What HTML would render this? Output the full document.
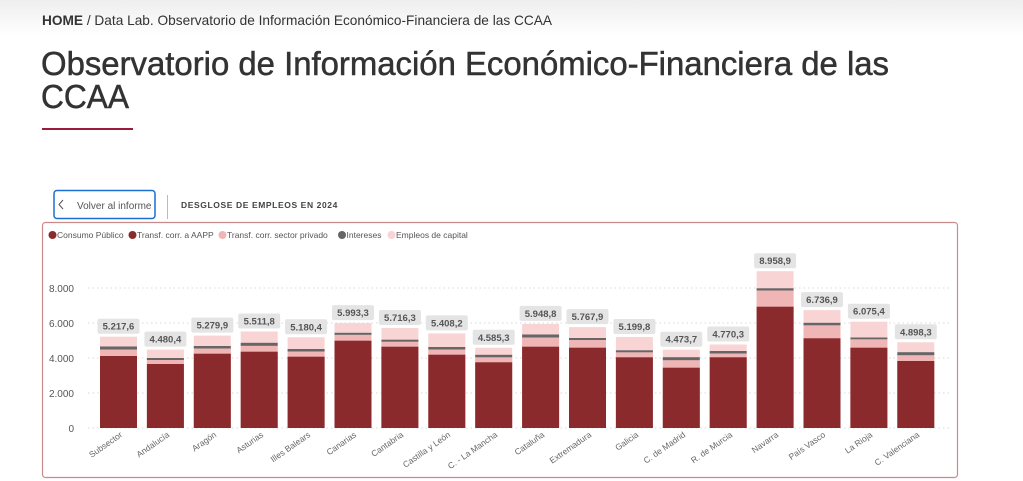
<!DOCTYPE html>
<html><head><meta charset="utf-8"><style>
html,body{margin:0;padding:0;background:#fff;width:1023px;height:481px;overflow:hidden}
svg{display:block}
text{font-family:"Liberation Sans",sans-serif}
</style></head><body>
<svg width="1023" height="481" viewBox="0 0 1023 481" xmlns="http://www.w3.org/2000/svg">
<defs><linearGradient id="tg" x1="0" y1="0" x2="0" y2="1"><stop offset="0" stop-color="#eeeeee"/><stop offset="1" stop-color="#ffffff"/></linearGradient></defs>
<rect x="0" y="0" width="1023" height="36" fill="url(#tg)"/>
<text x="42" y="25" font-size="14" fill="#333" textLength="510" lengthAdjust="spacingAndGlyphs"><tspan font-weight="bold">HOME</tspan> / Data Lab. Observatorio de Información Económico-Financiera de las CCAA</text>
<text x="41" y="75" font-size="33" fill="#333" stroke="#333" stroke-width="0.5" textLength="848" lengthAdjust="spacingAndGlyphs">Observatorio de Información Económico-Financiera de las</text>
<text x="41" y="108" font-size="33" fill="#333" stroke="#333" stroke-width="0.5" textLength="88" lengthAdjust="spacingAndGlyphs">CCAA</text>
<rect x="42" y="128" width="91" height="2" fill="#9b1b3a"/>

<rect x="54" y="190.5" width="101" height="28" rx="3" fill="#fff" stroke="#1a6fd0" stroke-width="1.5"/>
<path d="M63 200 L59 204.5 L63 209" fill="none" stroke="#555" stroke-width="1"/>
<text x="77" y="209" font-size="10" fill="#555">Volver al informe</text>
<rect x="167" y="195" width="1" height="24" fill="#bbb"/>
<text x="181" y="208" font-size="8.5" font-weight="bold" fill="#444" letter-spacing="0.6">DESGLOSE DE EMPLEOS EN 2024</text>

<rect x="42.5" y="222.5" width="915" height="255" rx="3" fill="#fff" stroke="#c98a8c" stroke-width="1.2"/>

<g font-size="8.5" fill="#555">
<circle cx="52.5" cy="235" r="4" fill="#8b2a2d"/><text x="57" y="238">Consumo Público</text>
<circle cx="132.5" cy="235" r="4" fill="#8b2a2d"/><text x="137" y="238">Transf. corr. a AAPP</text>
<circle cx="222.5" cy="235" r="4" fill="#f0b5b5"/><text x="227" y="238">Transf. corr. sector privado</text>
<circle cx="342" cy="235" r="4" fill="#666"/><text x="346.5" y="238">Intereses</text>
<circle cx="391.5" cy="235" r="4" fill="#f8d4d4"/><text x="396" y="238">Empleos de capital</text>
</g>

<g stroke="#ccc" stroke-width="0.8" stroke-dasharray="1.5,3">
<line x1="88" y1="288" x2="950" y2="288"/><line x1="88" y1="323" x2="950" y2="323"/>
<line x1="88" y1="358" x2="950" y2="358"/><line x1="88" y1="393" x2="950" y2="393"/>
<line x1="88" y1="428" x2="950" y2="428"/>
</g>
<g font-size="10" fill="#555" text-anchor="end">
<text x="74" y="292">8.000</text><text x="74" y="327">6.000</text><text x="74" y="362">4.000</text><text x="74" y="397">2.000</text><text x="74" y="432">0</text>
</g>

<g>
<g><rect x="100" y="336.7" width="37" height="91.3" fill="#f8d4d4"/><rect x="100" y="349" width="37" height="79" fill="#f0b5b5"/><rect x="100" y="356" width="37" height="72" fill="#8b2a2d"/><rect x="100" y="346.5" width="37" height="3" fill="#666"/></g>
<g><rect x="146.9" y="349.6" width="37" height="78.4" fill="#f8d4d4"/><rect x="146.9" y="360" width="37" height="68" fill="#f0b5b5"/><rect x="146.9" y="364" width="37" height="64" fill="#8b2a2d"/><rect x="146.9" y="358" width="37" height="2" fill="#666"/></g>
<g><rect x="193.8" y="335.6" width="37" height="92.4" fill="#f8d4d4"/><rect x="193.8" y="348.5" width="37" height="79.5" fill="#f0b5b5"/><rect x="193.8" y="353.7" width="37" height="74.3" fill="#8b2a2d"/><rect x="193.8" y="346" width="37" height="2.5" fill="#666"/></g>
<g><rect x="240.7" y="331.5" width="37" height="96.5" fill="#f8d4d4"/><rect x="240.7" y="345.5" width="37" height="82.5" fill="#f0b5b5"/><rect x="240.7" y="351.7" width="37" height="76.3" fill="#8b2a2d"/><rect x="240.7" y="342.8" width="37" height="3" fill="#666"/></g>
<g><rect x="287.6" y="337.3" width="37" height="90.7" fill="#f8d4d4"/><rect x="287.6" y="351.5" width="37" height="76.5" fill="#f0b5b5"/><rect x="287.6" y="356.7" width="37" height="71.3" fill="#8b2a2d"/><rect x="287.6" y="349" width="37" height="2.5" fill="#666"/></g>
<g><rect x="334.5" y="323.1" width="37" height="104.9" fill="#f8d4d4"/><rect x="334.5" y="334.5" width="37" height="93.5" fill="#f0b5b5"/><rect x="334.5" y="340.7" width="37" height="87.3" fill="#8b2a2d"/><rect x="334.5" y="332.8" width="37" height="2" fill="#666"/></g>
<g><rect x="381.4" y="328" width="37" height="100" fill="#f8d4d4"/><rect x="381.4" y="341.7" width="37" height="86.3" fill="#f0b5b5"/><rect x="381.4" y="346.7" width="37" height="81.3" fill="#8b2a2d"/><rect x="381.4" y="339.7" width="37" height="2" fill="#666"/></g>
<g><rect x="428.3" y="333.4" width="37" height="94.6" fill="#f8d4d4"/><rect x="428.3" y="349.5" width="37" height="78.5" fill="#f0b5b5"/><rect x="428.3" y="354.7" width="37" height="73.3" fill="#8b2a2d"/><rect x="428.3" y="347" width="37" height="2.5" fill="#666"/></g>
<g><rect x="475.2" y="347.8" width="37" height="80.2" fill="#f8d4d4"/><rect x="475.2" y="357.2" width="37" height="70.8" fill="#f0b5b5"/><rect x="475.2" y="362.3" width="37" height="65.7" fill="#8b2a2d"/><rect x="475.2" y="354.8" width="37" height="2.5" fill="#666"/></g>
<g><rect x="522.1" y="323.9" width="37" height="104.1" fill="#f8d4d4"/><rect x="522.1" y="337.5" width="37" height="90.5" fill="#f0b5b5"/><rect x="522.1" y="346.7" width="37" height="81.3" fill="#8b2a2d"/><rect x="522.1" y="334.5" width="37" height="3" fill="#666"/></g>
<g><rect x="569" y="327.1" width="37" height="100.9" fill="#f8d4d4"/><rect x="569" y="340" width="37" height="88" fill="#f0b5b5"/><rect x="569" y="347.7" width="37" height="80.3" fill="#8b2a2d"/><rect x="569" y="338" width="37" height="2" fill="#666"/></g>
<g><rect x="615.9" y="337" width="37" height="91" fill="#f8d4d4"/><rect x="615.9" y="352.3" width="37" height="75.7" fill="#f0b5b5"/><rect x="615.9" y="357.3" width="37" height="70.7" fill="#8b2a2d"/><rect x="615.9" y="350.3" width="37" height="2" fill="#666"/></g>
<g><rect x="662.8" y="349.7" width="37" height="78.3" fill="#f8d4d4"/><rect x="662.8" y="360.2" width="37" height="67.8" fill="#f0b5b5"/><rect x="662.8" y="367.7" width="37" height="60.3" fill="#8b2a2d"/><rect x="662.8" y="357.2" width="37" height="3" fill="#666"/></g>
<g><rect x="709.7" y="344.5" width="37" height="83.5" fill="#f8d4d4"/><rect x="709.7" y="353.5" width="37" height="74.5" fill="#f0b5b5"/><rect x="709.7" y="357.3" width="37" height="70.7" fill="#8b2a2d"/><rect x="709.7" y="351" width="37" height="2.5" fill="#666"/></g>
<g><rect x="756.6" y="271.2" width="37" height="156.8" fill="#f8d4d4"/><rect x="756.6" y="290.5" width="37" height="137.5" fill="#f0b5b5"/><rect x="756.6" y="306.7" width="37" height="121.3" fill="#8b2a2d"/><rect x="756.6" y="288.3" width="37" height="2.2" fill="#666"/></g>
<g><rect x="803.5" y="310.1" width="37" height="117.9" fill="#f8d4d4"/><rect x="803.5" y="325.2" width="37" height="102.8" fill="#f0b5b5"/><rect x="803.5" y="338.3" width="37" height="89.7" fill="#8b2a2d"/><rect x="803.5" y="322.8" width="37" height="2.5" fill="#666"/></g>
<g><rect x="850.4" y="321.7" width="37" height="106.3" fill="#f8d4d4"/><rect x="850.4" y="339.3" width="37" height="88.7" fill="#f0b5b5"/><rect x="850.4" y="347.7" width="37" height="80.3" fill="#8b2a2d"/><rect x="850.4" y="337.5" width="37" height="1.8" fill="#666"/></g>
<g><rect x="897.3" y="342.3" width="37" height="85.7" fill="#f8d4d4"/><rect x="897.3" y="355.2" width="37" height="72.8" fill="#f0b5b5"/><rect x="897.3" y="361" width="37" height="67" fill="#8b2a2d"/><rect x="897.3" y="352.2" width="37" height="3" fill="#666"/></g>
</g>

<g fill="#e4e4e4">
<rect x="97.5" y="318.7" width="42" height="15" rx="2"/>
<rect x="144.4" y="331.6" width="42" height="15" rx="2"/>
<rect x="191.3" y="317.6" width="42" height="15" rx="2"/>
<rect x="238.2" y="313.5" width="42" height="15" rx="2"/>
<rect x="285.1" y="319.3" width="42" height="15" rx="2"/>
<rect x="332" y="305.1" width="42" height="15" rx="2"/>
<rect x="378.9" y="310" width="42" height="15" rx="2"/>
<rect x="425.8" y="315.4" width="42" height="15" rx="2"/>
<rect x="472.7" y="329.8" width="42" height="15" rx="2"/>
<rect x="519.6" y="305.9" width="42" height="15" rx="2"/>
<rect x="566.5" y="309.1" width="42" height="15" rx="2"/>
<rect x="613.4" y="319" width="42" height="15" rx="2"/>
<rect x="660.3" y="331.7" width="42" height="15" rx="2"/>
<rect x="707.2" y="326.5" width="42" height="15" rx="2"/>
<rect x="754.1" y="253.2" width="42" height="15" rx="2"/>
<rect x="801" y="292.1" width="42" height="15" rx="2"/>
<rect x="847.9" y="303.7" width="42" height="15" rx="2"/>
<rect x="894.8" y="324.3" width="42" height="15" rx="2"/>
</g>
<g font-size="9.5" font-weight="bold" fill="#555" text-anchor="middle">
<text x="118.5" y="329.7">5.217,6</text>
<text x="165.4" y="342.6">4.480,4</text>
<text x="212.3" y="328.6">5.279,9</text>
<text x="259.2" y="324.5">5.511,8</text>
<text x="306.1" y="330.3">5.180,4</text>
<text x="353" y="316.1">5.993,3</text>
<text x="399.9" y="321">5.716,3</text>
<text x="446.8" y="326.4">5.408,2</text>
<text x="493.7" y="340.8">4.585,3</text>
<text x="540.6" y="316.9">5.948,8</text>
<text x="587.5" y="320.1">5.767,9</text>
<text x="634.4" y="330">5.199,8</text>
<text x="681.3" y="342.7">4.473,7</text>
<text x="728.2" y="337.5">4.770,3</text>
<text x="775.1" y="264.2">8.958,9</text>
<text x="822" y="303.1">6.736,9</text>
<text x="868.9" y="314.7">6.075,4</text>
<text x="915.8" y="335.3">4.898,3</text>
</g>

<g font-size="8.5" fill="#666" text-anchor="end">
<text transform="translate(123,436) rotate(-35)">Subsector</text>
<text transform="translate(170,436) rotate(-35)">Andalucía</text>
<text transform="translate(217,436) rotate(-35)">Aragón</text>
<text transform="translate(264,436) rotate(-35)">Asturias</text>
<text transform="translate(311,436) rotate(-35)">Illes Balears</text>
<text transform="translate(357,436) rotate(-35)">Canarias</text>
<text transform="translate(404,436) rotate(-35)">Cantabria</text>
<text transform="translate(451,436) rotate(-35)">Castilla y León</text>
<text transform="translate(498,436) rotate(-35)">C. - La Mancha</text>
<text transform="translate(545,436) rotate(-35)">Cataluña</text>
<text transform="translate(592,436) rotate(-35)">Extremadura</text>
<text transform="translate(639,436) rotate(-35)">Galicia</text>
<text transform="translate(686,436) rotate(-35)">C. de Madrid</text>
<text transform="translate(733,436) rotate(-35)">R. de Murcia</text>
<text transform="translate(779,436) rotate(-35)">Navarra</text>
<text transform="translate(826,436) rotate(-35)">País Vasco</text>
<text transform="translate(873,436) rotate(-35)">La Rioja</text>
<text transform="translate(920,436) rotate(-35)">C. Valenciana</text>
</g>
</svg>
</body></html>
